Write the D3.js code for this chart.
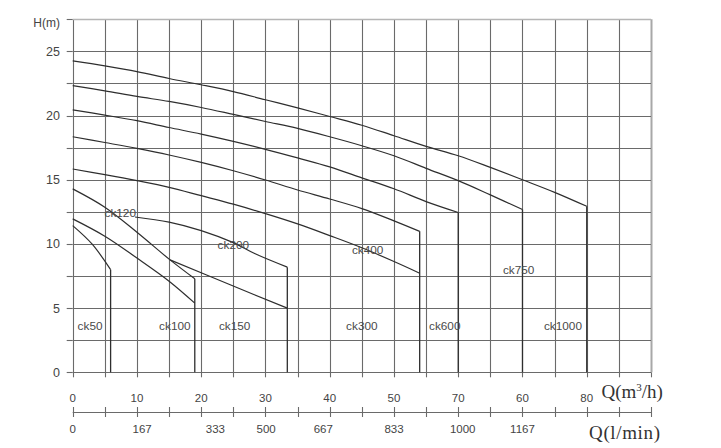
<!DOCTYPE html>
<html>
<head>
<meta charset="utf-8">
<script src="https://cdn.jsdelivr.net/npm/d3@7"></script>
<style>
  html, body { margin: 0; padding: 0; background: #fff; }
  svg { display: block; }
</style>
</head>
<body>
<script>
// ---- Data (Q in m3/h, H in m) ----
const ck1000 = [[0,24.26],[5,23.87],[10,23.43],[15,22.89],[20,22.4],[25,21.87],[30,21.23],[35,20.6],[40,19.93],[45,19.25],[50,18.43],[55,17.6],[60,16.87],[65,15.96],[70,15.0],[75,14.02],[80,12.93]];
const ck750  = [[0,22.34],[5,21.93],[10,21.49],[15,21.1],[20,20.63],[25,20.09],[30,19.54],[35,19.0],[40,18.35],[45,17.65],[50,16.87],[55,15.89],[60,14.93],[65,13.82],[70,12.68]];
const ck600  = [[0,20.45],[5,20.04],[10,19.6],[15,19.07],[20,18.56],[25,17.99],[30,17.37],[35,16.7],[40,16.0],[45,15.15],[50,14.3],[55,13.3],[60,12.45]];
const ck400  = [[0,18.35],[5,17.9],[10,17.44],[15,16.93],[20,16.35],[25,15.7],[30,14.98],[35,14.2],[40,13.5],[45,12.75],[50,11.8],[54,10.98]];
const ck300  = [[0,15.84],[5,15.4],[10,14.93],[15,14.41],[20,13.76],[25,13.1],[30,12.36],[35,11.56],[40,10.65],[45,9.7],[50,8.63],[54,7.72]];
const ck200  = [[9.7,12.1],[15,11.7],[20,11.04],[25,10.1],[28.4,9.23],[33.4,8.19]];
const ck150  = [[15.15,8.76],[24.7,6.78],[33.4,5.0]];
const ck120  = [[0,14.29],[5,12.86],[10,10.91],[15.15,8.76],[19,7.29]];
const ck100  = [[0,11.95],[5,10.6],[10,8.9],[15,7.1],[19,5.39]];
const ck50   = [[0,11.43],[3,10.0],[5.9,8.0]];

const curves = [ck1000, ck750, ck600, ck400, ck300, ck200, ck150, ck120, ck100, ck50];

// curve labels: name, Q, H
const labelNames = ["ck50","ck100","ck150","ck300","ck600","ck1000","ck750","ck400","ck200","ck120"];
const labelQ     = [2.7, 15.9, 25.2, 45.0, 57.9, 76.3, 69.4, 45.9, 25.0, 7.4];
const labelH     = [3.6, 3.6, 3.6, 3.6, 3.6, 3.6, 8.0, 9.58, 9.97, 12.46];

// axes
const yTickValues = [0, 5, 10, 15, 20, 25];
const xTickValues = [0, 10, 20, 30, 40, 50, 60, 70, 80];
const xTickLabels = ["0","10","20","30","40","50","70","60","80"];
const lpmLabels   = ["0","167","333","500","667","833","1000","1167"];
const lpmAtQ      = [0, 10.8, 22.2, 30.1, 39, 50, 60.7, 70];

// ---- Layout ----
const W = 721, H = 448;
const svg = d3.select("body").append("svg").attr("width", W).attr("height", H);

const x = d3.scaleLinear().domain([0, 90]).range([72.7, 651]);
const y = d3.scaleLinear().domain([0, 27.5]).range([372.3, 19.3]);

const gridColor = "#6a6a6a";
const textColor = "#444";
const sans = "'Liberation Sans', Arial, sans-serif";

// grid
const g = svg.append("g");
g.selectAll("line.v").data(d3.range(0, 90.01, 5)).join("line")
  .attr("x1", d => Math.round(x(d)) + 0.5).attr("x2", d => Math.round(x(d)) + 0.5)
  .attr("y1", y(27.5)).attr("y2", y(0))
  .attr("stroke", d => d === 90 ? "#a8a8a8" : gridColor)
  .attr("stroke-width", d => d === 90 ? 2 : 1.1);
g.selectAll("line.h").data(d3.range(0, 27.51, 2.5)).join("line")
  .attr("x1", x(0)).attr("x2", x(90))
  .attr("y1", d => Math.round(y(d)) + 0.5).attr("y2", d => Math.round(y(d)) + 0.5)
  .attr("stroke", d => d === 27.5 ? "#b5b5b5" : gridColor)
  .attr("stroke-width", d => d === 27.5 ? 1.6 : 1.1);

// y axis ticks
g.selectAll("line.yt").data(d3.range(0, 27.51, 2.5)).join("line")
  .attr("x1", x(0) - 6).attr("x2", x(0))
  .attr("y1", d => Math.round(y(d)) + 0.5).attr("y2", d => Math.round(y(d)) + 0.5)
  .attr("stroke", gridColor).attr("stroke-width", 1.1);
svg.append("g").selectAll("text").data(yTickValues).join("text")
  .attr("x", 60).attr("y", d => y(d)).attr("dy", "0.36em")
  .attr("text-anchor", "end")
  .attr("font-family", sans).attr("font-size", 12.5).attr("fill", textColor)
  .text(d => d);
svg.append("text").attr("x", 60).attr("y", y(27.5) + 3).attr("dy", "0.36em")
  .attr("text-anchor", "end").attr("font-family", sans).attr("font-size", 12)
  .attr("fill", textColor).text("H(m)");

// top x axis ticks (below plot)
g.selectAll("line.xt").data(d3.range(0, 90.01, 5)).join("line")
  .attr("x1", d => Math.round(x(d)) + 0.5).attr("x2", d => Math.round(x(d)) + 0.5)
  .attr("y1", y(0)).attr("y2", y(0) + 5)
  .attr("stroke", gridColor).attr("stroke-width", 1.1);
svg.append("g").selectAll("text").data(xTickValues).join("text")
  .attr("x", d => x(d)).attr("y", 401.5)
  .attr("text-anchor", "middle")
  .attr("font-family", sans).attr("font-size", 11.5).attr("fill", textColor)
  .text((d, i) => xTickLabels[i]);

// second axis (l/min)
svg.append("line").attr("x1", x(0)).attr("x2", x(90))
  .attr("y1", 412.5).attr("y2", 412.5).attr("stroke", gridColor).attr("stroke-width", 1.1);
svg.append("g").selectAll("line").data(d3.range(0, 90.01, 5)).join("line")
  .attr("x1", d => Math.round(x(d)) + 0.5).attr("x2", d => Math.round(x(d)) + 0.5)
  .attr("y1", 407).attr("y2", 417)
  .attr("stroke", gridColor).attr("stroke-width", 1.1);
svg.append("g").selectAll("text").data(lpmLabels).join("text")
  .attr("x", (d, i) => x(lpmAtQ[i])).attr("y", 433)
  .attr("text-anchor", "middle")
  .attr("font-family", sans).attr("font-size", 11.5).attr("fill", textColor)
  .text(d => d);

// axis titles
const serif = "'Liberation Serif', 'Times New Roman', serif";
const t1 = svg.append("text").attr("x", 601.5).attr("y", 398)
  .attr("font-family", serif).attr("font-size", 19).attr("fill", "#333");
t1.append("tspan").text("Q(m");
t1.append("tspan").attr("font-size", 11).attr("dy", -7).text("3");
t1.append("tspan").attr("dy", 7).text("/h)");
svg.append("text").attr("x", 589).attr("y", 438.5)
  .attr("font-family", serif).attr("font-size", 19).attr("fill", "#333")
  .attr("textLength", 71).attr("lengthAdjust", "spacing")
  .text("Q(l/min)");

// curves
const line = d3.line().x(d => x(d[0])).y(d => y(d[1])).curve(d3.curveCatmullRom.alpha(0.5));
const cg = svg.append("g");
curves.forEach(c => {
  cg.append("path").attr("d", line(c)).attr("fill", "none")
    .attr("stroke", "#2e2e2e").attr("stroke-width", 1.2);
});
// vertical drops at end of range
const drops = [ck1000, ck750, ck600, ck400, ck200, ck120, ck50];
drops.forEach(c => {
  const last = c[c.length - 1];
  cg.append("line")
    .attr("x1", x(last[0])).attr("x2", x(last[0]))
    .attr("y1", y(last[1])).attr("y2", y(0))
    .attr("stroke", "#2e2e2e").attr("stroke-width", 1.3);
});

// curve labels
svg.append("g").selectAll("text").data(labelNames).join("text")
  .attr("x", (d, i) => x(labelQ[i])).attr("y", (d, i) => y(labelH[i]))
  .attr("dy", "0.36em").attr("text-anchor", "middle")
  .attr("font-family", sans).attr("font-size", 11.8).attr("fill", "#4a4a4a")
  .text(d => d);
</script>
</body>
</html>
